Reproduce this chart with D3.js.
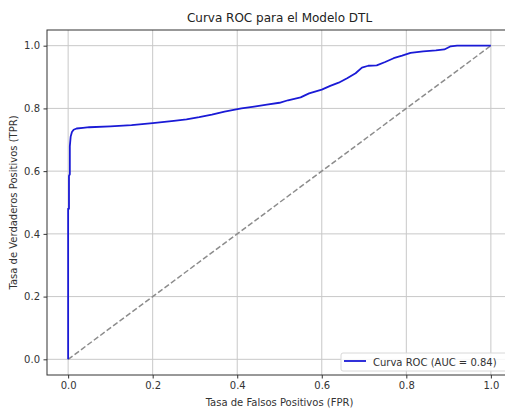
<!DOCTYPE html>
<html>
<head>
<meta charset="utf-8">
<script src="https://cdn.jsdelivr.net/npm/d3@7"></script>
<style>
  body { margin: 0; background: #fff; }
  svg { display: block; font-family: "DejaVu Sans", sans-serif; }
</style>
</head>
<body>
<div id="chart"></div>
<script>
// ROC curve
const fpr = [0, 0, 0.002, 0.002, 0.004, 0.004, 0.006, 0.009, 0.013, 0.02, 0.035, 0.05, 0.1, 0.15, 0.2, 0.25, 0.28, 0.31, 0.34, 0.37, 0.41, 0.44, 0.47, 0.5, 0.52, 0.55, 0.57, 0.6, 0.62, 0.64, 0.66, 0.68, 0.695, 0.71, 0.73, 0.75, 0.77, 0.79, 0.81, 0.84, 0.87, 0.89, 0.905, 0.92, 1.0];
const tpr = [0, 0.48, 0.48, 0.585, 0.59, 0.68, 0.71, 0.725, 0.732, 0.736, 0.738, 0.74, 0.743, 0.747, 0.753, 0.76, 0.765, 0.772, 0.78, 0.79, 0.8, 0.806, 0.812, 0.818, 0.826, 0.835, 0.848, 0.86, 0.872, 0.882, 0.896, 0.912, 0.93, 0.936, 0.937, 0.948, 0.96, 0.968, 0.977, 0.982, 0.985, 0.988, 0.998, 1.0, 1.0];
const diagonal = [0, 1];
const xTicks = [0, 0.2, 0.4, 0.6, 0.8, 1.0];
const yTicks = [0, 0.2, 0.4, 0.6, 0.8, 1.0];
const legendLabel = "Curva ROC (AUC = 0.84)";

const W = 505, H = 410;
const margin = {top: 30, right: -7, bottom: 35, left: 47};
const width = W - margin.left - margin.right, height = H - margin.top - margin.bottom;

const svg = d3.select("#chart").append("svg")
    .attr("width", W).attr("height", H);

svg.append("text")
    .attr("x", margin.left + width / 2).attr("y", 22)
    .attr("text-anchor", "middle")
    .style("font-size", "12px").style("fill", "#222")
    .text("Curva ROC para el Modelo DTL");

const g = svg.append("g").attr("transform", "translate(" + margin.left + "," + margin.top + ")");

const x = d3.scaleLinear().domain([-0.05, 1.05]).range([0, width]);
const y = d3.scaleLinear().domain([-0.05, 1.05]).range([height, 0]);

// grid
g.append("g").selectAll("line").data(xTicks).enter().append("line")
    .attr("x1", d => x(d)).attr("x2", d => x(d))
    .attr("y1", 0).attr("y2", height)
    .attr("stroke", "#c8c8c8").attr("stroke-width", 1);
g.append("g").selectAll("line").data(yTicks).enter().append("line")
    .attr("y1", d => y(d)).attr("y2", d => y(d))
    .attr("x1", 0).attr("x2", width)
    .attr("stroke", "#c8c8c8").attr("stroke-width", 1);

// diagonal
g.append("line")
    .attr("x1", x(diagonal[0])).attr("y1", y(diagonal[0]))
    .attr("x2", x(diagonal[1])).attr("y2", y(diagonal[1]))
    .attr("stroke", "#8c8c8c").attr("stroke-width", 1.5)
    .attr("stroke-dasharray", "5.5,2.5");

// roc curve
const pts = fpr.map((f, i) => [f, tpr[i]]);
g.append("path")
    .datum(pts)
    .attr("fill", "none")
    .attr("stroke", "#1a1ad6")
    .attr("stroke-width", 1.8)
    .attr("stroke-linejoin", "round")
    .attr("d", d3.line().x(d => x(d[0])).y(d => y(d[1])));

// axes
const xAxis = g.append("g").attr("transform", "translate(0," + height + ")")
    .call(d3.axisBottom(x).tickValues(xTicks).tickFormat(d3.format(".1f")).tickSize(3.5).tickPadding(3.5));
const yAxis = g.append("g")
    .call(d3.axisLeft(y).tickValues(yTicks).tickFormat(d3.format(".1f")).tickSize(3.5).tickPadding(3.5));
[xAxis, yAxis].forEach(a => {
    a.select(".domain").remove();
    a.selectAll("line").attr("stroke", "#333");
    a.selectAll("text").style("font-size", "10px").style("fill", "#333").attr("font-family", "DejaVu Sans");
});

// frame
g.append("rect").attr("width", width).attr("height", height)
    .attr("fill", "none").attr("stroke", "#333").attr("stroke-width", 1);

// labels
svg.append("text")
    .attr("x", margin.left + width / 2).attr("y", 406)
    .attr("text-anchor", "middle")
    .style("font-size", "10px").style("fill", "#333")
    .text("Tasa de Falsos Positivos (FPR)");
svg.append("text")
    .attr("transform", "translate(17," + (margin.top + height / 2) + ") rotate(-90)")
    .attr("text-anchor", "middle")
    .style("font-size", "10px").style("fill", "#333")
    .text("Tasa de Verdaderos Positivos (TPR)");

// legend
const leg = svg.append("g").attr("transform", "translate(341,353)");
leg.append("rect").attr("width", 166).attr("height", 18).attr("rx", 2)
    .attr("fill", "#fff").attr("fill-opacity", 0.85)
    .attr("stroke", "#d8d8d8");
leg.append("line").attr("x1", 3).attr("x2", 25).attr("y1", 8).attr("y2", 8)
    .attr("stroke", "#1a1ad6").attr("stroke-width", 1.8);
leg.append("text").attr("x", 32).attr("y", 12.5)
    .style("font-size", "10px").style("fill", "#333")
    .text(legendLabel);
</script>
</body>
</html>
